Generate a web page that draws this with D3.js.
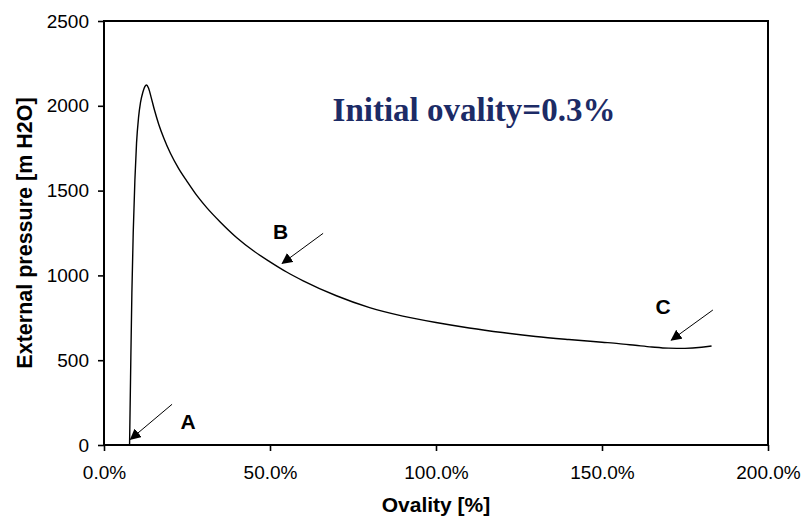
<!DOCTYPE html>
<html>
<head>
<meta charset="utf-8">
<script src="https://cdn.jsdelivr.net/npm/d3@7"></script>
<style>
  html, body { margin: 0; padding: 0; background: #fff; }
  svg { display: block; }
</style>
</head>
<body>
<svg id="chart" width="801" height="518"></svg>
<script>
// Pressure–ovality response of a pipe under external pressure
const ovality = [7.7, 8.0, 8.4, 8.8, 9.3, 9.8, 10.4, 11.0, 11.7, 12.3, 12.8, 13.4, 14.2, 15.2, 16.5, 18, 20, 22.5, 25, 28, 31, 35, 40, 45, 50, 55, 60, 70, 80, 90, 100, 110, 120, 130, 140, 150, 155, 160, 165, 170, 175, 180, 183];
const pressure = [0, 400, 900, 1250, 1560, 1780, 1930, 2020, 2080, 2113, 2123, 2105, 2050, 1975, 1890, 1810, 1720, 1630, 1555, 1470, 1398, 1315, 1222, 1145, 1080, 1020, 968, 880, 810, 760, 722, 690, 663, 640, 622, 606, 598, 588, 578, 571, 570, 576, 584];

const xTicks = [0, 50, 100, 150, 200];
const yTicks = [0, 500, 1000, 1500, 2000, 2500];

// Point annotations: arrow tip, arrow tail and label position (data units)
const annoLabels = ["A", "B", "C"];
const annoTip = [[8.0, 34], [53.7, 1071], [170.9, 619]];
const annoTail = [[20.5, 240], [66.0, 1248], [183.4, 796]];
const annoText = [[25.3, 139], [53.2, 1258], [168.4, 815]];

const titleText = "Initial ovality=0.3%";

const svg = d3.select("#chart");
const m = { left: 104, right: 768, top: 21, bottom: 445 };

const x = d3.scaleLinear().domain([0, 200]).range([m.left, m.right]);
const y = d3.scaleLinear().domain([0, 2500]).range([m.bottom, m.top]);

const defs = svg.append("defs");
defs.append("marker")
  .attr("id", "head")
  .attr("viewBox", "0 0 10 10")
  .attr("refX", 9).attr("refY", 5)
  .attr("markerWidth", 11).attr("markerHeight", 11)
  .attr("markerUnits", "userSpaceOnUse")
  .attr("orient", "auto")
  .append("path")
  .attr("d", "M0,0 L10,5 L0,10 Z")
  .attr("fill", "#000");

// Axes
const xAxis = d3.axisBottom(x)
  .tickValues(xTicks)
  .tickSize(6)
  .tickPadding(15)
  .tickFormat(d => d3.format(".1f")(d) + "%");
const yAxis = d3.axisLeft(y)
  .tickValues(yTicks)
  .tickSize(6)
  .tickPadding(9)
  .tickFormat(d3.format("d"));

const gx = svg.append("g").attr("transform", `translate(0,${m.bottom})`).call(xAxis);
const gy = svg.append("g").attr("transform", `translate(${m.left},0)`).call(yAxis);
[gx, gy].forEach(g => {
  g.select(".domain").remove();
  g.selectAll(".tick line").attr("stroke", "#000").attr("stroke-width", 1.6);
  g.selectAll(".tick text")
    .attr("fill", "#000")
    .style("font-family", "Arial, 'Liberation Sans', sans-serif")
    .style("font-size", "19px");
});

// Plot frame
svg.append("rect")
  .attr("x", m.left).attr("y", m.top)
  .attr("width", m.right - m.left).attr("height", m.bottom - m.top)
  .attr("fill", "none")
  .attr("stroke", "#000")
  .attr("stroke-width", 2);

// Curve
const pts = ovality.map((v, i) => [v, pressure[i]]);
const line = d3.line()
  .x(d => x(d[0]))
  .y(d => y(d[1]))
  .curve(d3.curveMonotoneX);
svg.append("path")
  .datum(pts)
  .attr("d", line)
  .attr("fill", "none")
  .attr("stroke", "#000")
  .attr("stroke-width", 1.4);

// Annotations
annoLabels.forEach((lab, i) => {
  svg.append("line")
    .attr("x1", x(annoTail[i][0])).attr("y1", y(annoTail[i][1]))
    .attr("x2", x(annoTip[i][0])).attr("y2", y(annoTip[i][1]))
    .attr("stroke", "#000")
    .attr("stroke-width", 1)
    .attr("marker-end", "url(#head)");
  svg.append("text")
    .attr("x", x(annoText[i][0])).attr("y", y(annoText[i][1]))
    .attr("text-anchor", "middle")
    .attr("dominant-baseline", "central")
    .style("font-family", "Arial, 'Liberation Sans', sans-serif")
    .style("font-weight", "bold")
    .style("font-size", "21px")
    .text(lab);
});

// Title inside the plot
svg.append("text")
  .attr("x", 474).attr("y", 121)
  .attr("text-anchor", "middle")
  .attr("fill", "#1c2b66")
  .style("font-family", "'Liberation Serif', 'DejaVu Serif', serif")
  .style("font-weight", "bold")
  .style("font-size", "33px")
  .text(titleText);

// Axis titles
svg.append("text")
  .attr("x", (m.left + m.right) / 2).attr("y", 512)
  .attr("text-anchor", "middle")
  .style("font-family", "Arial, 'Liberation Sans', sans-serif")
  .style("font-weight", "bold")
  .style("font-size", "21px")
  .text("Ovality [%]");

svg.append("text")
  .attr("transform", `translate(32,${(m.top + m.bottom) / 2}) rotate(-90)`)
  .attr("text-anchor", "middle")
  .style("font-family", "Arial, 'Liberation Sans', sans-serif")
  .style("font-weight", "bold")
  .style("font-size", "21.5px")
  .text("External pressure [m H2O]");
</script>
</body>
</html>
